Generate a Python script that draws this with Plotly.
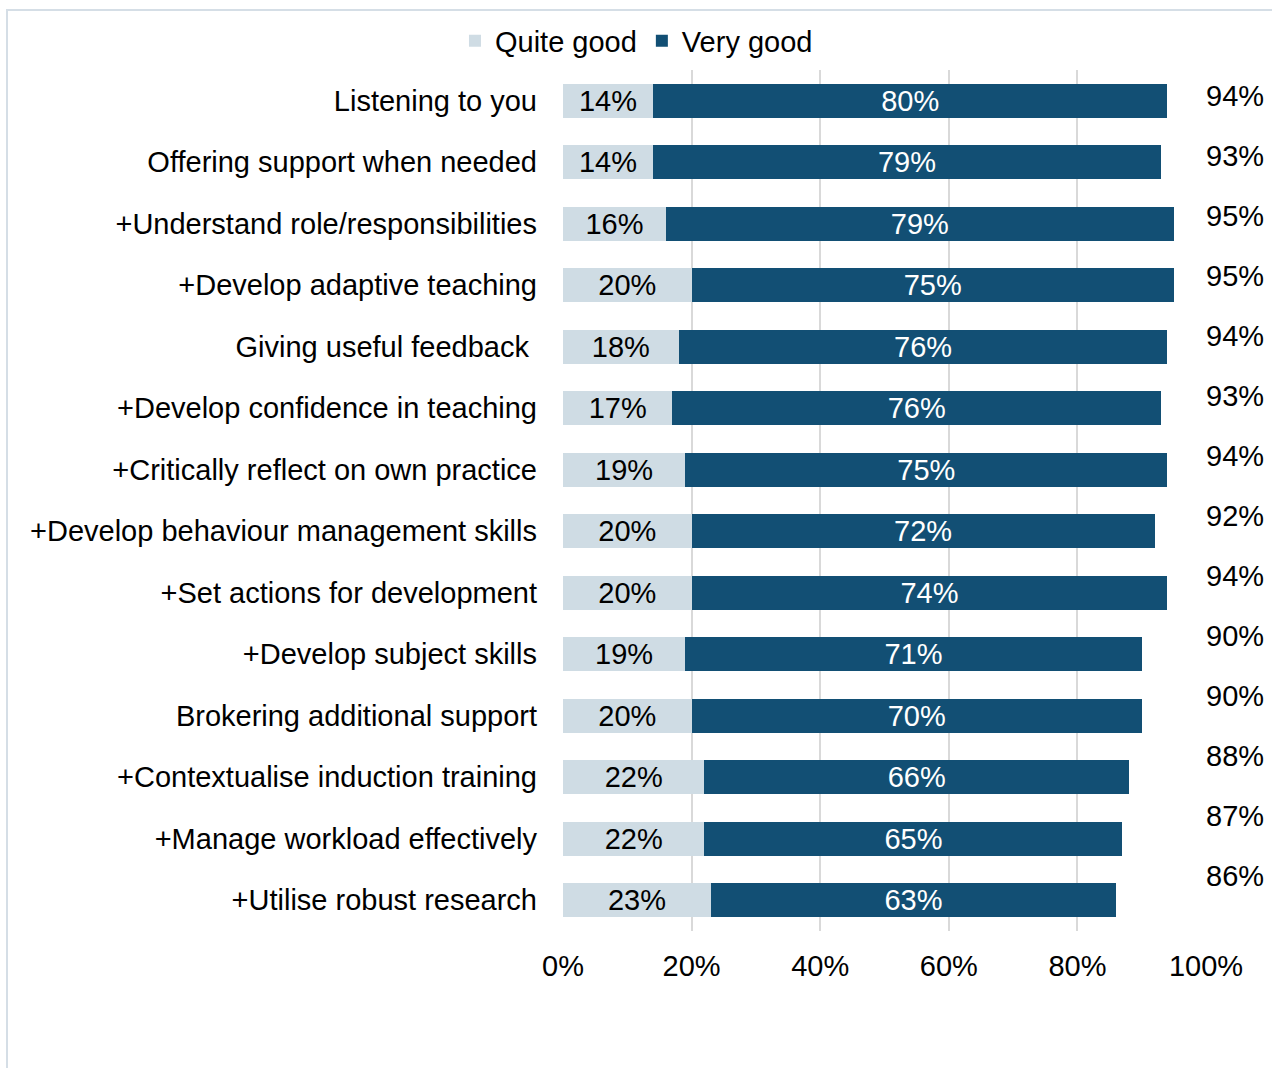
import plotly.graph_objects as go

categories = [
    "Listening to you",
    "Offering support when needed",
    "+Understand role/responsibilities",
    "+Develop adaptive teaching",
    "Giving useful feedback\u00a0",
    "+Develop confidence in teaching",
    "+Critically reflect on own practice",
    "+Develop behaviour management skills",
    "+Set actions for development",
    "+Develop subject skills",
    "Brokering additional support",
    "+Contextualise induction training",
    "+Manage workload effectively",
    "+Utilise robust research",
]
quite_good = [14, 14, 16, 20, 18, 17, 19, 20, 20, 19, 20, 22, 22, 23]
very_good = [80, 79, 79, 75, 76, 76, 75, 72, 74, 71, 70, 66, 65, 63]
totals = [94, 93, 95, 95, 94, 93, 94, 92, 94, 90, 90, 88, 87, 86]
x_ticks = [0, 20, 40, 60, 80, 100]
x_tick_labels = ["0%", "20%", "40%", "60%", "80%", "100%"]

LIGHT = "#CFDCE4"
DARK = "#124F74"
FONT = "Liberation Sans, Arial, sans-serif"
FS = 29

fig = go.Figure()
fig.add_trace(go.Bar(
    y=categories, x=quite_good, orientation="h", name="Quite good",
    marker=dict(color=LIGHT, line=dict(width=0)),
    text=[f"{v}%" for v in quite_good], textposition="inside",
    insidetextanchor="middle", constraintext="none",
    textfont=dict(color="black", size=FS, family=FONT),
    width=0.56,
))
fig.add_trace(go.Bar(
    y=categories, x=very_good, orientation="h", name="Very good",
    marker=dict(color=DARK, line=dict(width=0)),
    text=[f"{v}%" for v in very_good], textposition="inside",
    insidetextanchor="middle", constraintext="none",
    textfont=dict(color="white", size=FS, family=FONT),
    width=0.56,
))

n = len(categories)
for i, (c, t) in enumerate(zip(categories, totals)):
    fig.add_annotation(
        x=1.045, y=c, xref="paper", yref="y", text=f"{t}%", showarrow=False,
        xanchor="center", yanchor="middle", yshift=5 + 19 * i / (n - 1),
        font=dict(size=FS, family=FONT, color="black"),
    )

fig.add_shape(
    type="rect", xref="paper", yref="paper",
    x0=-0.8647, x1=1.6, y0=-0.5, y1=1.0697,
    line=dict(color="#D5DEE6", width=2), fillcolor="rgba(0,0,0,0)", layer="below",
)

fig.update_layout(
    width=1272, height=1068,
    margin=dict(l=563, r=66, t=70, b=137),
    barmode="stack",
    paper_bgcolor="white", plot_bgcolor="white",
    font=dict(family=FONT, size=FS, color="black"),
    legend=dict(
        orientation="h", x=-0.168, xanchor="left", y=1.0337, yanchor="middle",
        font=dict(size=FS, family=FONT), traceorder="normal",
        itemwidth=30, bgcolor="rgba(0,0,0,0)",
    ),
    xaxis=dict(
        range=[0, 100], tickvals=x_ticks, ticktext=x_tick_labels,
        showgrid=True, gridcolor="#D9D9D9", gridwidth=2,
        zeroline=False, showline=False, ticks="", ticklabelstandoff=15,
        tickfont=dict(size=FS, family=FONT), automargin=False,
    ),
    yaxis=dict(
        categoryorder="array", categoryarray=categories,
        range=[n - 0.5, -0.5], autorange=False,
        showgrid=False, zeroline=False, showline=False, ticks="",
        ticklabelstandoff=25, tickfont=dict(size=FS, family=FONT), automargin=False,
    ),
)

fig.write_html(
    "out.html",
    config={"displayModeBar": False},
    post_script="document.body.style.margin='0';document.body.style.overflow='hidden';",
)
